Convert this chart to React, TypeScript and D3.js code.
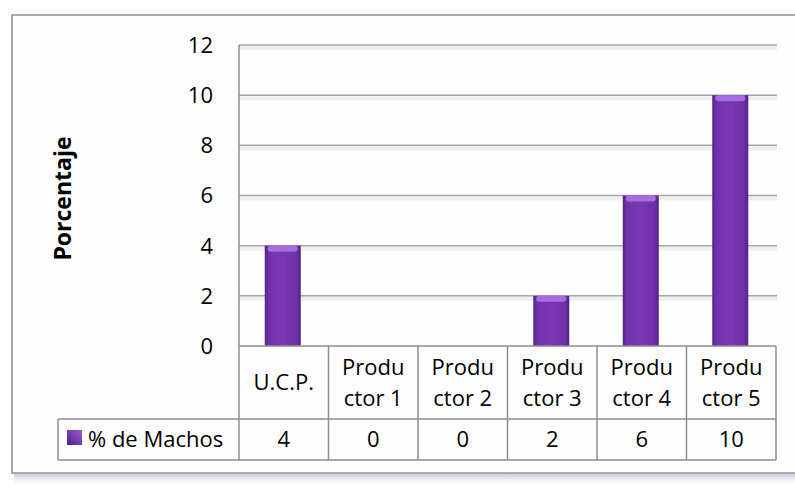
import React, { useEffect, useRef } from "react";
import * as d3 from "d3";

const categories = ["U.C.P.", "Productor 1", "Productor 2", "Productor 3", "Productor 4", "Productor 5"];
const categoryLines = [["U.C.P."], ["Produ", "ctor 1"], ["Produ", "ctor 2"], ["Produ", "ctor 3"], ["Produ", "ctor 4"], ["Produ", "ctor 5"]];
const machos = [4, 0, 0, 2, 6, 10];
const yTicks = [0, 2, 4, 6, 8, 10, 12];
const seriesName = "% de Machos";
const yLabel = "Porcentaje";

const W = 795, H = 491;
const FONT = "'Open Sans', sans-serif";
const FS = 22;

export default function App() {
  const ref = useRef<SVGSVGElement>(null);

  useEffect(() => {
    const svg = d3.select(ref.current);
    svg.selectAll("*").remove();

    const plot = { left: 239, right: 777, top: 45, bottom: 346 };
    const x = d3.scaleBand<string>().domain(categories).range([plot.left, 776]).padding(0);
    const y = d3.scaleLinear().domain([0, 12]).range([plot.bottom, plot.top]);
    const rowH = [73, 41];
    const tableBottom = plot.bottom + rowH[0] + rowH[1];
    const legendLeft = 58;

    const defs = svg.append("defs");
    const bg = defs.append("linearGradient").attr("id", "barGrad").attr("x1", 0).attr("x2", 1).attr("y1", 0).attr("y2", 0);
    bg.append("stop").attr("offset", "0%").attr("stop-color", "#56238a");
    bg.append("stop").attr("offset", "12%").attr("stop-color", "#7032aa");
    bg.append("stop").attr("offset", "50%").attr("stop-color", "#7b37b5");
    bg.append("stop").attr("offset", "88%").attr("stop-color", "#6e31a8");
    bg.append("stop").attr("offset", "100%").attr("stop-color", "#52208a");
    const kg = defs.append("linearGradient").attr("id", "keyGrad").attr("x1", 1).attr("x2", 0).attr("y1", 0).attr("y2", 1);
    kg.append("stop").attr("offset", "0%").attr("stop-color", "#9a5ad6");
    kg.append("stop").attr("offset", "100%").attr("stop-color", "#4f2185");
    const sh = defs.append("linearGradient").attr("id", "shadowGrad").attr("x1", 0).attr("x2", 0).attr("y1", 0).attr("y2", 1);
    sh.append("stop").attr("offset", "0%").attr("stop-color", "#c9c4e0");
    sh.append("stop").attr("offset", "100%").attr("stop-color", "#ffffff").attr("stop-opacity", 0);

    // frame shadow + frame
    svg.append("rect").attr("x", 14).attr("y", 474).attr("width", W - 14).attr("height", 12).attr("fill", "url(#shadowGrad)");
    svg.append("rect").attr("x", 12).attr("y", 15).attr("width", W - 12 + 5).attr("height", 458)
      .attr("fill", "#fefefe").attr("stroke", "#8e8e8e").attr("stroke-width", 1.5);

    // gridlines
    const grid = svg.append("g");
    yTicks.filter(t => t > 0).forEach(t => {
      grid.append("line").attr("x1", plot.left).attr("x2", plot.right).attr("y1", y(t) + 3).attr("y2", y(t) + 3)
        .attr("stroke", "#efefef").attr("stroke-width", 4);
      grid.append("line").attr("x1", plot.left).attr("x2", plot.right).attr("y1", y(t)).attr("y2", y(t))
        .attr("stroke", "#a6a6a6").attr("stroke-width", 1.5);
    });

    // y axis labels
    svg.append("g").selectAll("text").data(yTicks).join("text")
      .attr("x", 213).attr("y", d => y(d)).attr("dy", "0.36em").attr("text-anchor", "end")
      .attr("font-family", FONT).attr("font-size", FS).attr("fill", "#000").text(d => d);

    svg.append("text").attr("transform", `translate(71,${(plot.top + plot.bottom) / 2 + 3}) rotate(-90)`)
      .attr("text-anchor", "middle").attr("font-family", FONT).attr("font-size", 23).attr("font-weight", "bold")
      .text(yLabel);

    // bars
    const bw = 36;
    const bars = svg.append("g");
    categories.forEach((c, i) => {
      const v = machos[i];
      if (v <= 0) return;
      const cx = x(c)! + x.bandwidth() / 2 - 1;
      bars.append("rect").attr("x", cx - bw / 2).attr("y", y(v)).attr("width", bw).attr("height", y(0) - y(v))
        .attr("fill", "url(#barGrad)");
      bars.append("rect").attr("x", cx - bw / 2 + 3).attr("y", y(v)).attr("width", bw - 6).attr("height", 6)
        .attr("rx", 3).attr("fill", "#a56de0");
    });

    // y axis line
    svg.append("line").attr("x1", plot.left).attr("x2", plot.left).attr("y1", plot.top).attr("y2", plot.bottom)
      .attr("stroke", "#8e8e8e").attr("stroke-width", 1.5);

    // data table
    const tbl = svg.append("g").attr("stroke", "#8e8e8e").attr("stroke-width", 1.5).attr("fill", "none");
    tbl.append("line").attr("x1", plot.left).attr("x2", 776).attr("y1", plot.bottom).attr("y2", plot.bottom);
    tbl.append("line").attr("x1", legendLeft).attr("x2", 776).attr("y1", plot.bottom + rowH[0]).attr("y2", plot.bottom + rowH[0]);
    tbl.append("line").attr("x1", legendLeft).attr("x2", 776).attr("y1", tableBottom).attr("y2", tableBottom);
    tbl.append("line").attr("x1", legendLeft).attr("x2", legendLeft).attr("y1", plot.bottom + rowH[0]).attr("y2", tableBottom);
    categories.forEach(c => {
      tbl.append("line").attr("x1", x(c)!).attr("x2", x(c)!).attr("y1", plot.bottom).attr("y2", tableBottom);
    });
    tbl.append("line").attr("x1", 776).attr("x2", 776).attr("y1", plot.bottom).attr("y2", tableBottom);

    const txt = svg.append("g").attr("font-family", FONT).attr("font-size", FS).attr("fill", "#000").attr("text-anchor", "middle");
    categories.forEach((c, i) => {
      const cx = x(c)! + x.bandwidth() / 2;
      const lines = categoryLines[i];
      const lh = 31;
      const y0 = plot.bottom + rowH[0] / 2 - ((lines.length - 1) * lh) / 2;
      lines.forEach((l, j) => {
        txt.append("text").attr("x", cx).attr("y", y0 + j * lh).attr("dy", "0.36em").text(l);
      });
      txt.append("text").attr("x", cx).attr("y", plot.bottom + rowH[0] + rowH[1] / 2).attr("dy", "0.36em").text(machos[i]);
    });

    // legend key
    svg.append("rect").attr("x", 67).attr("y", 430).attr("width", 15).attr("height", 15).attr("fill", "url(#keyGrad)");
    svg.append("text").attr("x", 88).attr("y", plot.bottom + rowH[0] + rowH[1] / 2).attr("dy", "0.36em")
      .attr("font-family", FONT).attr("font-size", FS).text(seriesName);
  }, []);

  return (
    <svg ref={ref} width={W} height={H} style={{ position: "absolute", left: 0, top: 0, background: "#fff" }} />
  );
}
